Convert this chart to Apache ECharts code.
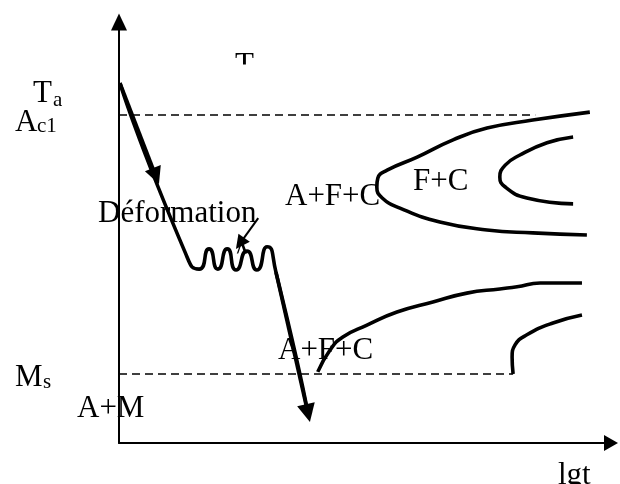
<!DOCTYPE html>
<html>
<head>
<meta charset="utf-8">
<title>TTT – déformation</title>
<script src="https://cdn.jsdelivr.net/npm/echarts@6/dist/echarts.min.js"></script>
<style>
  html, body { margin: 0; padding: 0; background: #fff; }
  #chart { width: 620px; height: 484px; }
</style>
</head>
<body>
<div id="chart"></div>
<script>
// Schematic units: x = lg t (0..100), y = temperature T (0..100)

// Thermal cycle: fast cooling, deformation (wavy part), then quench
const coolingPath = [
  [0.2, 85.5], [13.4, 45.4], [16.3, 41.3], [18.3, 46.1], [20.1, 41.3],
  [22.0, 46.1], [23.8, 41.1], [26.0, 45.6], [28.0, 41.1], [30.1, 46.6],
  [31.9, 40.6], [38.4, 7.1]
];
// Arrow heads along the cycle (segment ending at the head)
const coolingArrowMid = [[0.2, 85.5], [7.5, 63.4]];
const coolingArrowEnd = [[31.9, 40.6], [38.4, 7.1]];
const deformArrow = [[28.3, 53.4], [24.6, 47.4]];

// Ferrite + carbide transformation: start (outer) and finish (inner) curves
const pearliteStart = [
  [95.7, 78.6], [84.1, 76.7], [74.8, 74.8], [67.9, 72.0], [60.6, 67.9],
  [54.5, 64.8], [52.6, 62.9], [52.4, 60.8], [53.5, 58.2], [57.1, 55.8],
  [65.2, 52.5], [74.8, 50.6], [84.1, 49.9], [95.1, 49.4]
];
const pearliteEnd = [
  [92.3, 72.7], [87.0, 71.3], [81.5, 68.4], [78.5, 66.0], [77.4, 63.2],
  [78.5, 60.8], [82.9, 58.2], [92.3, 56.8]
];
// Lower transformation start / finish
const bainiteStart = [
  [40.4, 16.9], [42.9, 22.1], [45.5, 25.2], [50.4, 28.0], [56.5, 31.1],
  [63.8, 33.5], [70.7, 35.6], [77.4, 36.6], [80.9, 37.1], [85.6, 38.0],
  [94.1, 38.0]
];
const bainiteEnd = [
  [94.1, 30.4], [88.2, 28.5], [82.9, 25.7], [80.5, 23.3], [79.9, 20.4],
  [80.1, 16.4]
];
// Critical temperatures
const ac1Line = [[0, 77.9], [84.6, 77.9]];
const msLine = [[0, 16.4], [80.1, 16.4]];

// Texts
const yName = 'T';
const xName = 'lgt';
const labelTa = ['T', 'a'];
const labelAc1 = ['A', 'c1'];
const labelMs = ['M', 's'];
const labelDeform = 'Déformation';
const labelA = 'A';
const labelAFC = 'A+F+C';
const labelFC = 'F+C';
const labelAM = 'A+M';

const SERIF = '"Liberation Serif", "Times New Roman", serif';
const BIG = 31, SMALL = 21;

function txt(text, x, y, size) {
  return {
    type: 'text', x: x, y: y,
    style: { text: text, font: size + 'px ' + SERIF, fill: '#000', align: 'left', verticalAlign: 'middle' }
  };
}
function whiteBox(x, y, w, h) {
  return { type: 'rect', shape: { x: x, y: y, width: w, height: h }, style: { fill: '#fff' } };
}

const curveStyle = { color: '#000', width: 3.6 };
function curve(name, data, smooth) {
  return {
    name: name, type: 'line', data: data, smooth: smooth, showSymbol: false,
    lineStyle: curveStyle, silent: true, z: 3
  };
}
function dashed(name, data) {
  return {
    name: name, type: 'line', data: data, showSymbol: false, silent: true,
    lineStyle: { color: '#000', width: 1.6, type: [8, 5] }, z: 2
  };
}
function arrow(name, coords, width, size) {
  return {
    name: name, type: 'lines', coordinateSystem: 'cartesian2d', silent: true,
    symbol: ['none', 'triangle'], symbolSize: size, z: 4,
    lineStyle: { color: '#000', width: width, opacity: 1 },
    itemStyle: { color: '#000' },
    data: [{ coords: coords }]
  };
}

const chart = echarts.init(document.getElementById('chart'), null, { renderer: 'canvas' });
chart.setOption({
  animation: false,
  backgroundColor: '#fff',
  grid: { left: 119, right: 9, top: 22, bottom: 41 },
  xAxis: {
    type: 'value', min: 0, max: 100,
    axisLine: { onZero: false, lineStyle: { color: '#000', width: 2 }, symbol: ['none', 'triangle'], symbolSize: [16, 14] },
    axisTick: { show: false }, axisLabel: { show: false }, splitLine: { show: false }
  },
  yAxis: {
    type: 'value', min: 0, max: 100,
    axisLine: { onZero: false, lineStyle: { color: '#000', width: 2 }, symbol: ['none', 'triangle'], symbolSize: [16, 17] },
    axisTick: { show: false }, axisLabel: { show: false }, splitLine: { show: false }
  },
  series: [
    dashed('Ac1', ac1Line),
    dashed('Ms', msLine),
    curve('cycle', coolingPath, 0.7),
    curve('F+C start', pearliteStart, 0.5),
    curve('F+C end', pearliteEnd, 0.5),
    curve('lower start', bainiteStart, 0.5),
    curve('lower end', bainiteEnd, 0.5),
    arrow('cycle arrow 1', coolingArrowMid, 3.6, 17),
    arrow('cycle arrow 2', coolingArrowEnd, 3.6, 18),
    arrow('deformation arrow', deformArrow, 2, 14)
  ],
  graphic: [
    txt(yName, 235, 66, BIG),
    whiteBox(228, 64.5, 34, 16),
    txt(labelTa[0], 33, 94, BIG),
    txt(labelTa[1], 53, 100, SMALL),
    txt(labelAc1[0], 15, 123, BIG),
    txt(labelAc1[1], 37, 126, SMALL),
    txt(labelDeform, 98, 214, BIG),
    txt(labelA, 231, 256, BIG),
    whiteBox(226, 253.5, 32, 14),
    txt(labelAFC, 285, 197, BIG),
    txt(labelFC, 413, 182, BIG),
    txt(labelAFC, 278, 351, BIG),
    txt(labelMs[0], 15, 378, BIG),
    txt(labelMs[1], 43, 382, SMALL),
    txt(labelAM, 77, 409, BIG),
    txt(xName, 558, 476, BIG)
  ]
});
</script>
</body>
</html>
